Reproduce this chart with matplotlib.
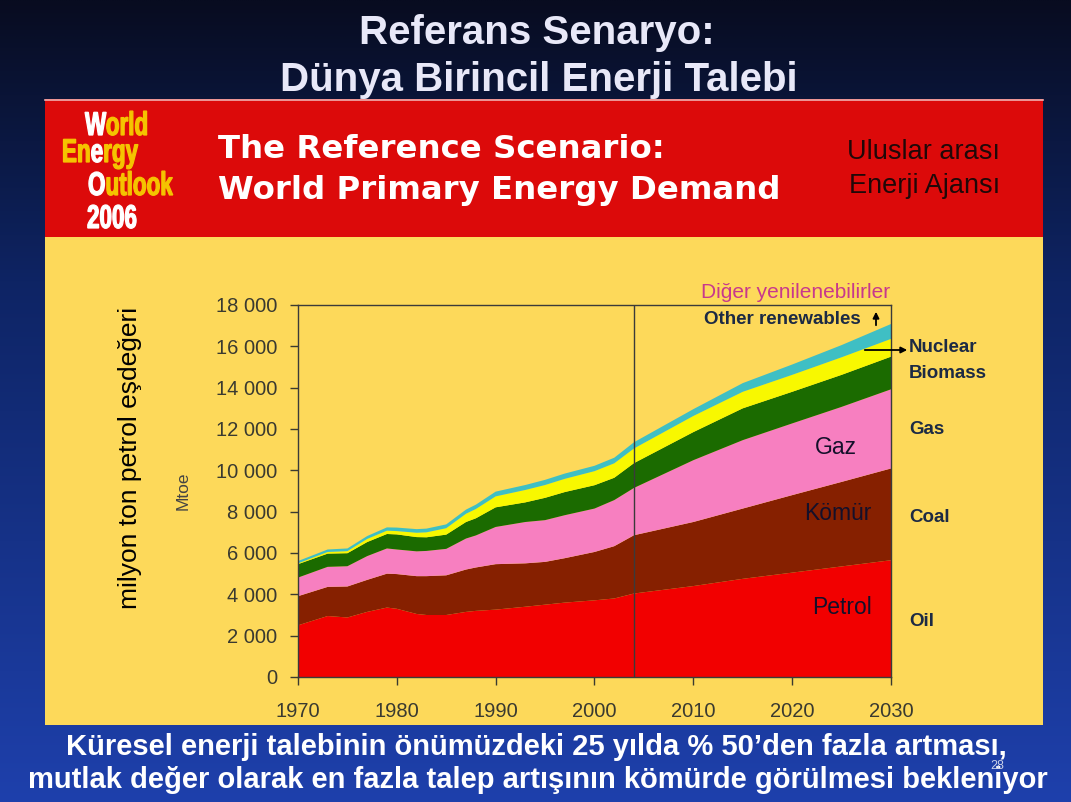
import matplotlib.pyplot as plt
import numpy as np
from matplotlib.patches import Rectangle, PathPatch
from matplotlib.ticker import FuncFormatter
from matplotlib.textpath import TextPath
from matplotlib.font_manager import FontProperties
from matplotlib.transforms import Affine2D

# Mtoe by fuel (history to 2004, projection to 2030)
years = [1970, 1973, 1975, 1977, 1979, 1980, 1982, 1983, 1985, 1987, 1988, 1990,
         1993, 1995, 1997, 2000, 2002, 2004, 2010, 2015, 2020, 2025, 2030]
oil = [2500, 2950, 2880, 3150, 3360, 3300, 3050, 3000, 3000, 3150, 3200, 3260,
       3400, 3500, 3600, 3710, 3800, 4040, 4400, 4750, 5050, 5350, 5650]
coal = [1410, 1410, 1500, 1550, 1640, 1680, 1830, 1880, 1920, 2050, 2100, 2200,
        2100, 2070, 2150, 2340, 2530, 2820, 3100, 3400, 3750, 4090, 4440]
gas = [900, 970, 980, 1150, 1220, 1190, 1200, 1220, 1280, 1500, 1550, 1800,
       2000, 2020, 2080, 2100, 2230, 2290, 2990, 3310, 3470, 3630, 3830]
biomass = [650, 640, 630, 680, 700, 730, 690, 660, 690, 800, 830, 950,
           950, 1080, 1120, 1130, 1080, 1200, 1360, 1540, 1530, 1550, 1580]
nuclear = [40, 80, 100, 150, 160, 160, 210, 240, 310, 400, 450, 530,
           600, 620, 640, 680, 700, 710, 780, 800, 820, 850, 860]
other = [110, 120, 130, 140, 160, 170, 175, 180, 185, 200, 210, 230,
         240, 250, 255, 260, 270, 300, 330, 420, 500, 590, 720]

series = [oil, coal, gas, biomass, nuclear, other]
colors = ['#f20000', '#862000', '#f77fc0', '#1b6b00', '#f8f800', '#3fbfc4']
right_labels = [('Oil', 622), ('Coal', 517), ('Gas', 430), ('Biomass', 373), ('Nuclear', 348)]
tr_labels = [('Petrol', 842, 607), ('Kömür', 838, 513), ('Gaz', 836, 447)]

W, H = 1071, 802
fig = plt.figure(figsize=(W / 100, H / 100), dpi=100)
arial = ['Liberation Sans', 'DejaVu Sans']

# slide background, pixel coordinates
bg = fig.add_axes([0, 0, 1, 1])
bg.set_xlim(0, W)
bg.set_ylim(H, 0)
bg.axis('off')
g = np.linspace(0, 1, 256)[:, None, None]
top = np.array([8, 12, 32]) / 255
mid = np.array([14, 36, 100]) / 255
bot = np.array([30, 64, 172]) / 255
img = np.where(g < 0.35, top + (mid - top) * (g / 0.35), mid + (bot - mid) * ((g - 0.35) / 0.65))
img = np.repeat(img, 4, axis=1)
bg.imshow(img, extent=[0, W, H, 0], aspect='auto', interpolation='bilinear', zorder=0)

bg.add_patch(Rectangle((45, 99), 998, 138, facecolor='#dc0a0a', edgecolor='none', zorder=1))
bg.plot([45, 1043], [99.5, 99.5], color='#f0b0b0', lw=1.2, zorder=2)
bg.add_patch(Rectangle((45, 237), 998, 488, facecolor='#fdd95a', edgecolor='none', zorder=1))

bg.text(537, 33, 'Referans Senaryo:', ha='center', va='center', fontsize=29,
        fontweight='bold', color='#e8e8f8', family=arial)
bg.text(539, 80, 'Dünya Birincil Enerji Talebi', ha='center', va='center', fontsize=29,
        fontweight='bold', color='#e8e8f8', family=arial)

bg.text(218, 150, 'The Reference Scenario:', ha='left', va='center', fontsize=23.3,
        fontweight='bold', color='white', family=['DejaVu Sans'])
bg.text(218, 190, 'World Primary Energy Demand', ha='left', va='center', fontsize=23.3,
        fontweight='bold', color='white', family=['DejaVu Sans'])
bg.text(1000, 152, 'Uluslar arası', ha='right', va='center', fontsize=19.5,
        color='#200808', family=arial)
bg.text(1000, 186, 'Enerji Ajansı', ha='right', va='center', fontsize=19.5,
        color='#200808', family=arial)

# logo: condensed bold letters, one colour per letter group
logo_prop = FontProperties(family=arial, weight='bold', size=33)
logo = [(85, 135, [('W', 'white'), ('orld', '#f5c400')]),
        (62, 162, [('En', '#f5c400'), ('e', 'white'), ('rgy', '#f5c400')]),
        (88, 195, [('O', 'white'), ('utlook', '#f5c400')]),
        (87, 228, [('2006', 'white')])]
for x, y, parts in logo:
    prefix = ''
    for s, c in parts:
        off = 0
        if prefix:
            off = (TextPath((0, 0), prefix + s, prop=logo_prop).get_extents().x1
                   - TextPath((0, 0), s, prop=logo_prop).get_extents().x1)
        path = TextPath((0, 0), s, prop=logo_prop)
        tr = Affine2D().translate(off, 0).scale(0.68, -1).translate(x, y) + bg.transData
        bg.add_patch(PathPatch(path, facecolor=c, edgecolor=c, lw=0.9,
                               transform=tr, zorder=3))
        prefix += s

bg.text(130, 458, 'milyon ton petrol eşdeğeri', rotation=90, ha='center', va='center',
        fontsize=19, color='black', family=arial)

# chart
ax = fig.add_axes([298 / W, 1 - 677 / H, 593 / W, 372 / H])
ax.set_facecolor('none')
ax.stackplot(years, series, colors=colors, linewidth=0)
ax.set_xlim(1970, 2030)
ax.set_ylim(0, 18000)
ax.set_xticks(range(1970, 2031, 10))
ax.set_yticks(range(0, 18001, 2000))
ax.yaxis.set_major_formatter(FuncFormatter(lambda v, p: f'{int(v):,}'.replace(',', ' ')))
ax.tick_params(labelsize=14.5, colors='#3a3a30', length=6, width=1)
ax.tick_params(axis='y', pad=9)
ax.tick_params(axis='x', pad=12)
for lab in ax.get_xticklabels() + ax.get_yticklabels():
    lab.set_family(arial)
for sp in ax.spines.values():
    sp.set_color('#3a3a3a')
    sp.set_linewidth(1)
ax.axvline(2004, color='#3a3a3a', lw=1)
ax.set_ylabel('Mtoe', fontsize=12.5, color='#444444', family=arial, labelpad=18)

# annotations on top of the chart
ov = fig.add_axes([0, 0, 1, 1])
ov.set_xlim(0, W)
ov.set_ylim(H, 0)
ov.axis('off')

lab_font = dict(fontsize=13.5, fontweight='bold', color='#1c2a44', family=arial)
for s, y in right_labels:
    ov.text(909, y, s, ha='left', va='center', **lab_font)
for s, x, y in tr_labels:
    ov.text(x, y, s, ha='center', va='center', fontsize=16.5, color='#14102a', family=arial)

ov.text(861, 320, 'Other renewables', ha='right', va='center', **lab_font)
ov.annotate('', xy=(876, 309), xytext=(876, 328),
            arrowprops=dict(arrowstyle='-|>', color='black', lw=1.3, mutation_scale=9))
ov.annotate('', xy=(910, 350), xytext=(862, 350),
            arrowprops=dict(arrowstyle='-|>', color='black', lw=1.3, mutation_scale=9))
ov.text(890, 293, 'Diğer yenilenebilirler', ha='right', va='center', fontsize=15,
        color='#c8388c', family=arial)

ov.text(536, 747, 'Küresel enerji talebinin önümüzdeki 25 yılda % 50’den fazla artması,',
        ha='center', va='center', fontsize=21, fontweight='bold', color='white', family=arial)
ov.text(538, 780, 'mutlak değer olarak en fazla talep artışının kömürde görülmesi bekleniyor',
        ha='center', va='center', fontsize=21, fontweight='bold', color='white', family=arial)
ov.text(997, 766, '28', ha='center', va='center', fontsize=9, color='#c8d0e8', family=arial)

fig.savefig('out.png', dpi=100)
